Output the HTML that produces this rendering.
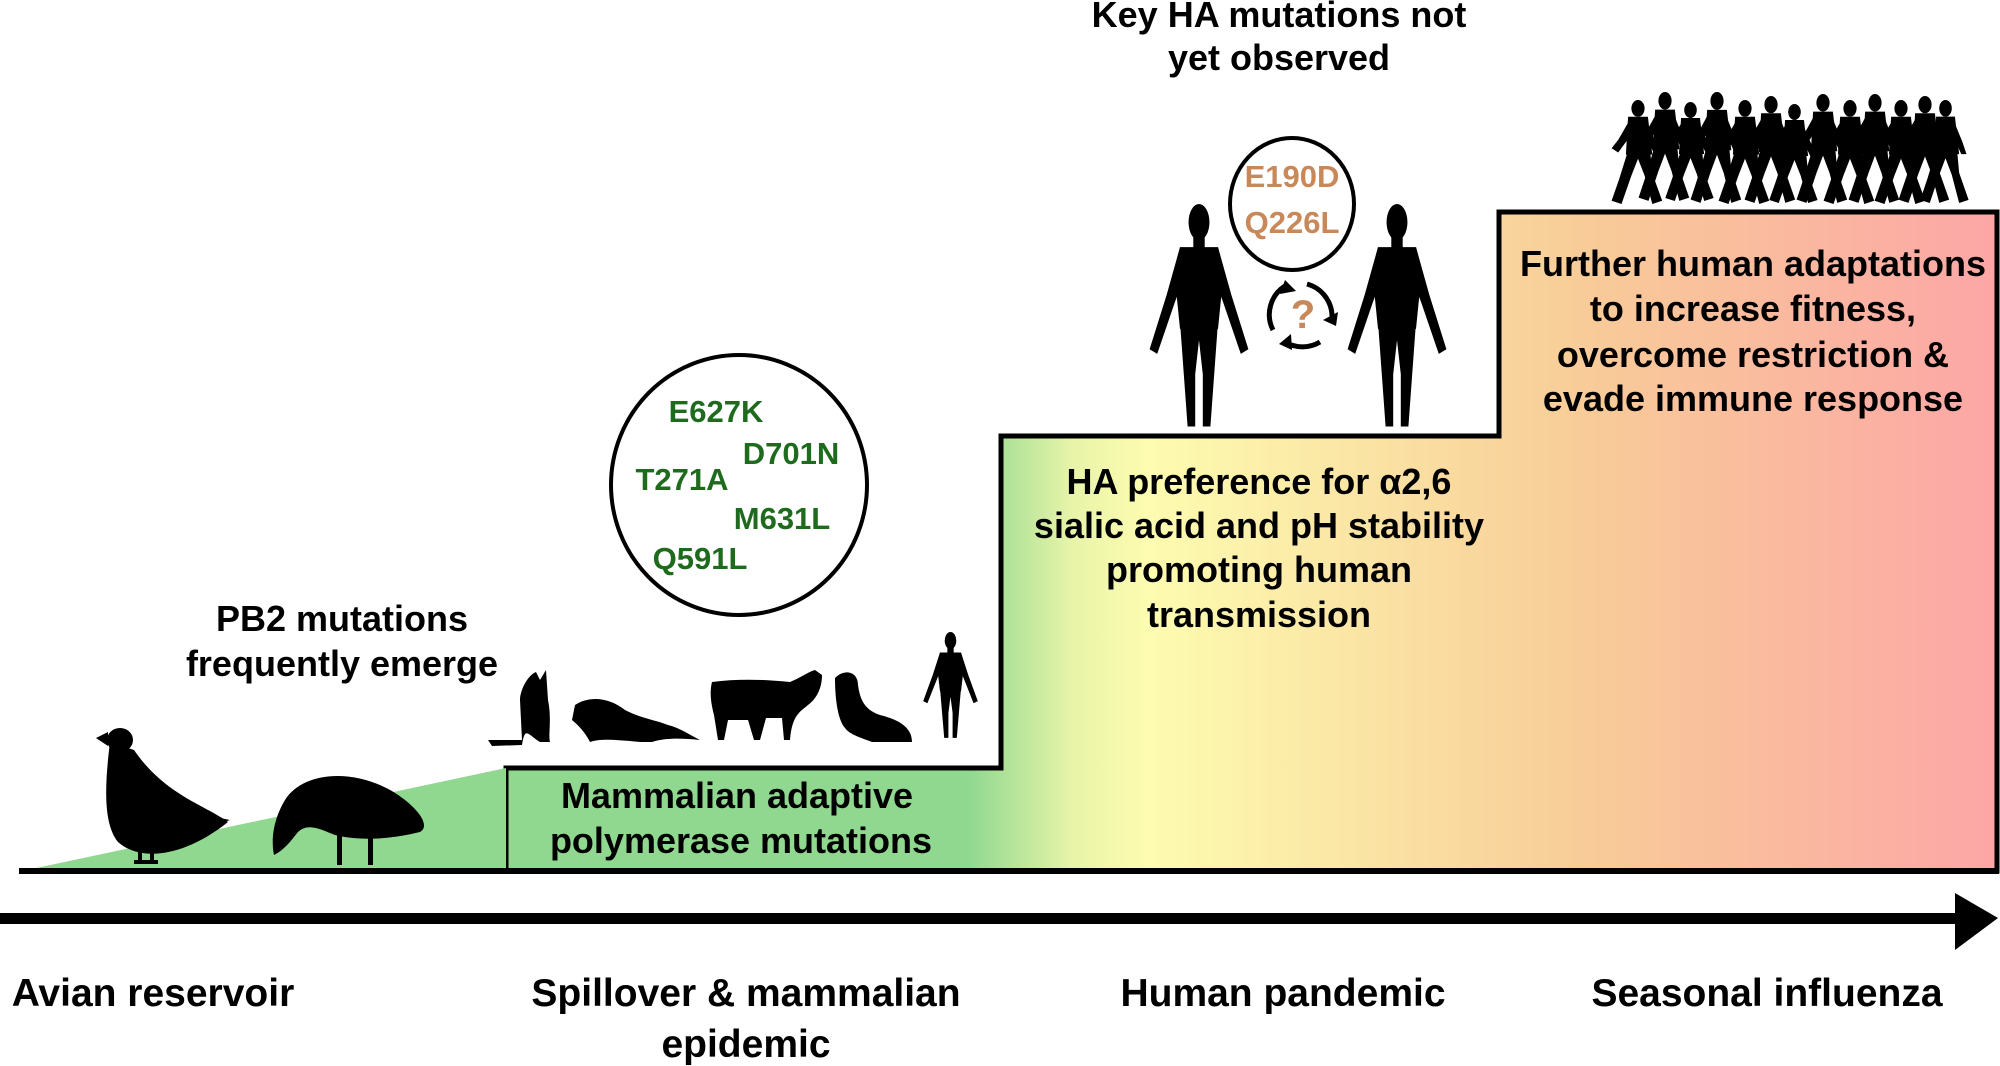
<!DOCTYPE html>
<html><head><meta charset="utf-8"><style>
html,body{margin:0;padding:0;background:#fff;}
svg{display:block}
text{font-family:"Liberation Sans",Arial,sans-serif;font-weight:bold;}
</style></head><body>
<svg width="2000" height="1066" viewBox="0 0 2000 1066" xmlns="http://www.w3.org/2000/svg">
<defs>
<linearGradient id="g" x1="506" y1="0" x2="1997" y2="0" gradientUnits="userSpaceOnUse">
<stop offset="0" stop-color="#90d890"/>
<stop offset="0.31" stop-color="#90d890"/>
<stop offset="0.38" stop-color="#e8f4a8"/>
<stop offset="0.43" stop-color="#fdfcb0"/>
<stop offset="0.72" stop-color="#f8cc98"/>
<stop offset="1" stop-color="#fca6a6"/>
</linearGradient>
<g id="man">
<ellipse cx="50" cy="8" rx="5.5" ry="8"/>
<rect x="47" y="14" width="6" height="6"/>
<polygon points="40,19 60,19 63,30 60,55 40,55 37,30"/>
<polygon points="40,19 33,40 24,64 28,66 37,44 43,30"/>
<polygon points="60,19 67,40 76,64 72,66 63,44 57,30"/>
<polygon points="40,52 42,75 44,98 48,98 48,75 50,60 52,75 52,98 56,98 58,75 60,52"/>
</g>
<g id="walker">
<ellipse cx="50" cy="8" rx="6" ry="8"/>
<polygon points="41,16 59,16 63,52 39,52"/>
<polygon points="43,18 32,38 26,46 32,50 46,30"/>
<polygon points="57,18 66,40 70,52 65,52 56,32"/>
<polygon points="41,48 33,75 26,96 35,99 44,72 50,56 56,72 63,99 72,96 63,70 61,48"/>
</g>
</defs>

<path d="M506,871 L506,768 L1001,768 L1001,436 L1499,436 L1499,212 L1997,212 L1997,871 Z" fill="url(#g)" stroke="#000" stroke-width="5"/>
<polygon points="22,871 506,768 506,871" fill="#90d890"/>
<line x1="19" y1="871" x2="1999" y2="871" stroke="#000" stroke-width="6"/>

<rect x="0" y="913" width="1960" height="11" fill="#000"/>
<polygon points="1955,893 1998,918 1955,950" fill="#000"/>

<g font-size="39" text-anchor="middle" fill="#000">
<text x="153" y="1006">Avian reservoir</text>
<text x="746" y="1006">Spillover &amp; mammalian</text>
<text x="746" y="1057">epidemic</text>
<text x="1283" y="1006">Human pandemic</text>
<text x="1767" y="1006">Seasonal influenza</text>
</g>

<g font-size="36" text-anchor="middle" fill="#000">
<text x="737" y="808">Mammalian adaptive</text>
<text x="741" y="853">polymerase mutations</text>
<text x="1259" y="494">HA preference for α2,6</text>
<text x="1259" y="538">sialic acid and pH stability</text>
<text x="1259" y="582">promoting human</text>
<text x="1259" y="627">transmission</text>
<text x="1753" y="276">Further human adaptations</text>
<text x="1753" y="321">to increase fitness,</text>
<text x="1753" y="367">overcome restriction &amp;</text>
<text x="1753" y="411">evade immune response</text>
<text x="342" y="631">PB2 mutations</text>
<text x="342" y="676">frequently emerge</text>
<text x="1279" y="27">Key HA mutations not</text>
<text x="1279" y="70">yet observed</text>
</g>

<ellipse cx="739" cy="485" rx="128" ry="130" fill="none" stroke="#000" stroke-width="4"/>
<g font-size="31" fill="#1e6b1e" text-anchor="middle">
<text x="716" y="422">E627K</text>
<text x="791" y="464">D701N</text>
<text x="682" y="490">T271A</text>
<text x="782" y="529">M631L</text>
<text x="700" y="569">Q591L</text>
</g>

<ellipse cx="1292" cy="204" rx="62" ry="66" fill="none" stroke="#000" stroke-width="4"/>
<g font-size="31" fill="#c8885a" text-anchor="middle">
<text x="1292" y="187">E190D</text>
<text x="1292" y="233">Q226L</text>
</g>

<g fill="none" stroke="#000" stroke-width="5">
<path d="M1273,330 A34,34 0 0 1 1285,286"/>
<path d="M1307,284 A34,34 0 0 1 1332,318"/>
<path d="M1320,342 A34,34 0 0 1 1285,342"/>
</g>
<g fill="#000">
<polygon points="1285,280 1296,291 1280,294"/>
<polygon points="1336,326 1323,320 1338,312"/>
<polygon points="1279,344 1291,334 1292,350"/>
</g>
<text x="1303" y="328" font-size="40" fill="#c8885a" text-anchor="middle">?</text>

<use href="#man" transform="translate(1104,204) scale(1.9,2.27)"/>
<use href="#man" transform="translate(1302,204) scale(1.9,2.27)"/>
<use href="#man" transform="translate(898,632) scale(1.05,1.08)"/>

<g fill="#000">
<use href="#walker" transform="translate(1583,100) scale(1.1,1.05)"/>
<use href="#walker" transform="translate(1610,92) scale(1.1,1.1)"/>
<use href="#walker" transform="translate(1638,102) scale(1.05,1.0)"/>
<use href="#walker" transform="translate(1662,92) scale(1.1,1.12)"/>
<use href="#walker" transform="translate(1690,100) scale(1.1,1.05)"/>
<use href="#walker" transform="translate(1716,96) scale(1.1,1.08)"/>
<use href="#walker" transform="translate(1742,104) scale(1.05,1.0)"/>
<use href="#walker" transform="translate(1768,94) scale(1.1,1.1)"/>
<use href="#walker" transform="translate(1795,100) scale(1.1,1.05)"/>
<use href="#walker" transform="translate(1820,94) scale(1.1,1.1)"/>
<use href="#walker" transform="translate(1846,100) scale(1.1,1.05)"/>
<use href="#walker" transform="translate(1870,96) scale(1.1,1.08)"/>
<use href="#walker" transform="translate(1893,100) scale(1.05,1.04)"/>
</g>

<g fill="#000">
<ellipse cx="120" cy="740" rx="13" ry="12"/>
<polygon points="96,738 108,732 108,746"/>
<path d="M110,742 C104,790 104,825 118,842 C138,860 180,860 228,822 C205,805 165,795 134,750 Z"/>
<polygon points="190,812 230,820 200,830"/>
<rect x="138" y="850" width="4" height="14"/>
<rect x="150" y="850" width="4" height="14"/>
<rect x="134" y="860" width="24" height="4"/>
<path d="M285,800 C305,768 365,768 405,800 C420,812 430,826 420,832 C395,838 365,842 335,835 C322,830 308,822 298,832 C290,842 284,850 274,855 C270,835 276,815 285,800 Z"/>
<rect x="337" y="832" width="5" height="33"/>
<rect x="368" y="832" width="5" height="33"/>
</g>

<g fill="#000">
<path d="M488,740 L522,740 L520,700 C520,690 528,675 536,672 L540,680 L546,670 L548,700 C552,720 548,735 550,742 L540,742 C528,735 525,725 522,745 L492,746 Z"/>
<path d="M575,705 C590,695 610,698 625,710 C640,718 655,720 668,725 C680,728 690,735 700,740 C680,738 665,738 652,742 L640,742 C620,740 600,738 590,742 C585,732 578,725 572,720 Z"/>
<path d="M712,682 C740,678 770,680 790,682 C800,678 808,672 815,670 L822,675 C822,690 815,700 808,705 C800,712 792,715 790,740 L784,740 L782,718 L766,718 L760,740 L754,740 L748,720 L728,720 L724,740 L718,740 L714,715 C710,700 710,690 712,682 Z"/>
<path d="M835,678 C845,668 858,672 858,685 C860,700 865,710 880,715 C900,720 912,728 912,742 L872,742 C862,738 850,735 845,728 C838,720 835,700 835,678 Z"/>
</g>
</svg>
</body></html>
